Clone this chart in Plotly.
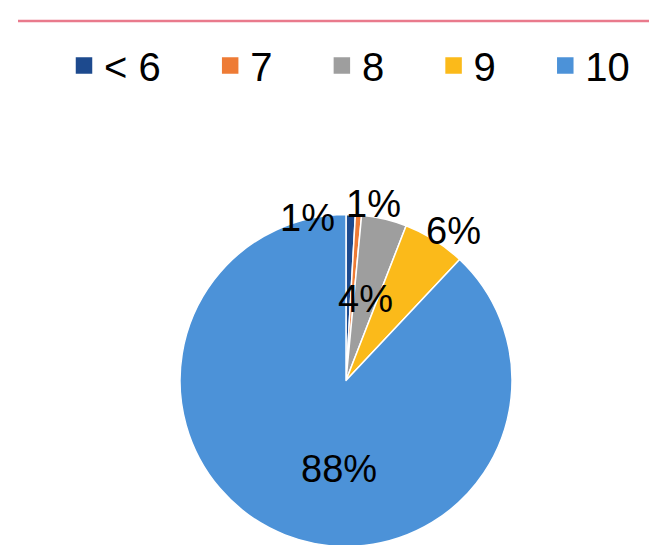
import plotly.graph_objects as go

# ---- data ----
categories = ["< 6", "7", "8", "9", "10"]
shares = [0.9, 0.6, 4.4, 6.1, 88.0]
colors = ["#1D4A8E", "#EE7B35", "#9E9E9E", "#FBBA1A", "#4C92D8"]

W, H = 657, 545
FONT = "Liberation Sans, Arial, Helvetica, sans-serif"

def px(x):
    return x / W

def py(y):
    return 1 - y / H

# pie geometry (pixels)
cx, cy, r = 338, 372.5, 166

# legend entries: extra spacing after every entry except the last
legend_names = [c + "\u00a0" * 4 for c in categories[:-1]] + [categories[-1]]

fig = go.Figure()
fig.add_trace(go.Pie(
    labels=legend_names,
    values=shares,
    marker=dict(colors=colors, line=dict(color="white", width=1.5)),
    sort=False,
    direction="clockwise",
    rotation=0,
    textinfo="none",
    hoverinfo="label+percent",
    domain=dict(x=[px(cx - r), px(cx + r)], y=[py(cy + r), py(cy - r)]),
))

# percentage labels placed like the original
label_pos = [(299, 210), (365, 196), (357, 291), (445, 223), (331, 461)]
for v, (lx, ly) in zip(shares, label_pos):
    fig.add_annotation(
        x=px(lx), y=py(ly), xref="paper", yref="paper",
        text=f"{round(v)}%", showarrow=False,
        font=dict(family=FONT, size=38, color="black"),
        xanchor="center", yanchor="middle",
    )

# thin red rule at the top
fig.add_shape(type="line", xref="paper", yref="paper",
              x0=px(10), x1=1, y0=py(13), y1=py(13),
              line=dict(color="#E97A8C", width=2.5))

fig.update_layout(
    width=W, height=H,
    margin=dict(l=0, r=0, t=0, b=0),
    paper_bgcolor="white", plot_bgcolor="white",
    showlegend=True,
    legend=dict(
        orientation="h",
        x=px(56), xanchor="left",
        y=py(25), yanchor="top",
        font=dict(family=FONT, size=40, color="black"),
        itemclick=False, itemdoubleclick=False,
        bgcolor="rgba(0,0,0,0)",
    ),
    font=dict(family=FONT),
)

# enlarge the square legend swatches to match the original (18 px)
post = """
var gd = document.getElementById('{plot_id}');
gd.querySelectorAll('g.legendpoints path.legendpie').forEach(function(p){
  p.setAttribute('d', 'M9,9H-9V-9H9Z');
});
"""

fig.write_html("out.html", post_script=post)
